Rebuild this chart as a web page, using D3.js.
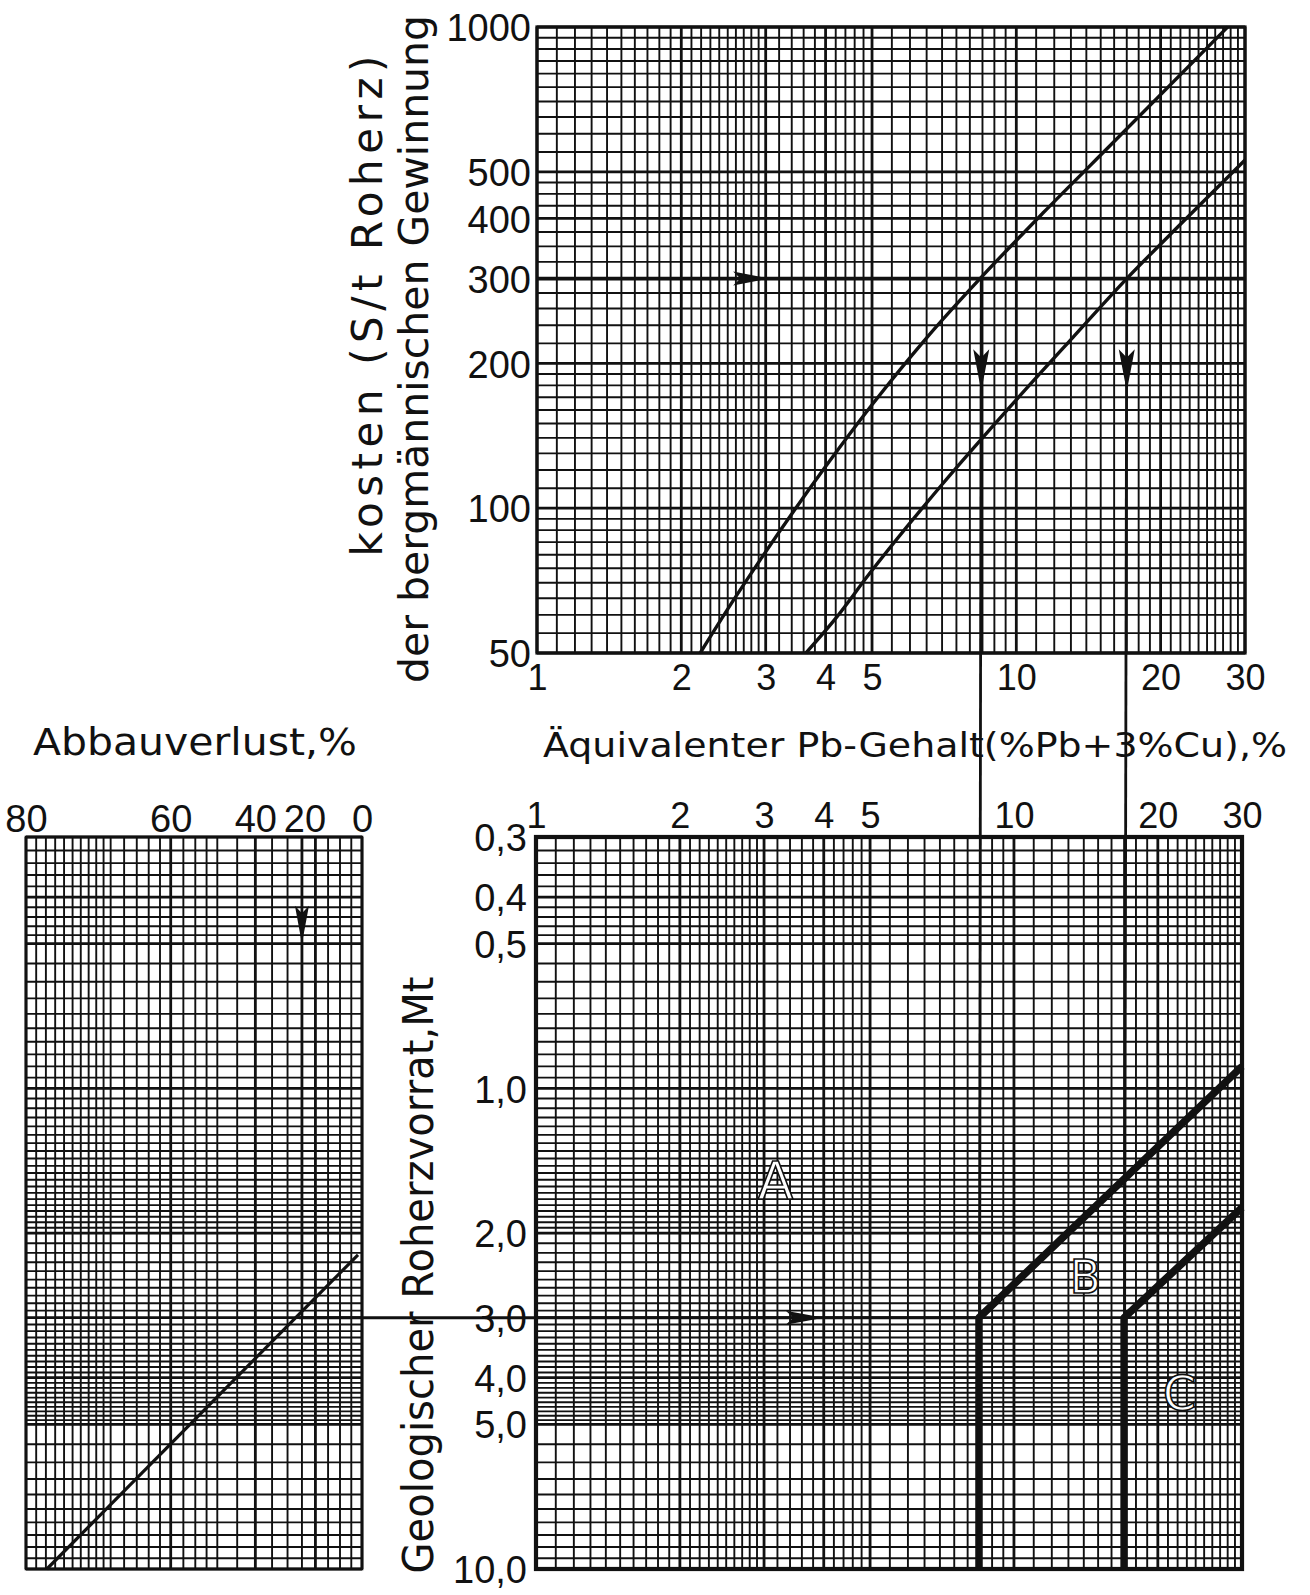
<!DOCTYPE html>
<html>
<head>
<meta charset="utf-8">
<script src="https://cdn.jsdelivr.net/npm/d3@7"></script>
<style>
  body { margin: 0; background: #fff; }
  text { fill: #111; }
</style>
</head>
<body>
<div id="chart"></div>
<script>
// ---------- data ----------
const gradeTicks = [1, 2, 3, 4, 5, 10, 20, 30];
const costTicks = [50, 100, 200, 300, 400, 500, 1000];
const reserveTicks = [0.3, 0.4, 0.5, 1, 2, 3, 4, 5, 10];
const reserveTickLabels = ["0,3", "0,4", "0,5", "1,0", "2,0", "3,0", "4,0", "5,0", "10,0"];
const lossTicks = [80, 60, 40, 20, 0];

// subdivisions of the printed log paper: [from, to, step]
const gradeGrid = [[1, 3, 0.1], [3, 5, 0.2], [5, 10, 0.5], [10, 30, 1]];
const costGrid = [[50, 100, 5], [100, 200, 10], [200, 300, 20], [300, 500, 25], [500, 1000, 50]];
const reserveGrid = [[0.3, 0.5, 0.02], [0.5, 2, 0.05], [2, 5, 0.1], [5, 10, 0.5]];
const lossGrid = [[0, 50, 5], [50, 60, 2.5], [60, 70, 2], [70, 80, 1]];

// mining cost curves: grade (%Pb equiv.) vs cost ($/t)
const upperGrade = [2.19, 2.56, 2.92, 4, 5, 6.5, 8.4, 11.35, 16, 27.6];
const upperCost  = [50, 64, 78, 122, 164, 226, 300, 410, 578, 1000];
const lowerGrade = [3.64, 4.17, 4.95, 7, 10, 13.1, 17, 22, 30];
const lowerCost  = [50, 58.5, 73.3, 112, 168, 226, 300, 389, 529];

// worked example
const costLevel = 300;
const cutGrades = [8.45, 17];
const reserveLevel = 3.0;
const lossExample = 25;

// boundaries between the fields A / B / C
const bGrade = [8.45, 8.45, 30];
const bReserve = [10, 3.0, 0.9];
const cGrade = [17, 17, 30];
const cReserve = [10, 3.0, 1.77];

// mining loss line: loss % vs geological reserve (Mt)
const lossLineLoss = [1.9, 77.9];
const lossLineReserve = [2.22, 10];

// ---------- layout ----------
const W = 1310, H = 1595;
const svg = d3.select("#chart").append("svg")
  .attr("width", W).attr("height", H)
  .attr("viewBox", [0, 0, W, H]);

const numFont = "Liberation Sans, Arial, sans-serif";
const txtFont = "DejaVu Sans, sans-serif";
const ink = "#111";

const xTop = d3.scaleLog().domain([1, 30]).range([537, 1245]);
const yTop = d3.scaleLog().domain([50, 1000]).range([653, 27]);
const xBot = d3.scaleLog().domain([1, 30]).range([536, 1242]);
const yBot = d3.scaleLog().domain([0.3, 10]).range([837, 1569]);
const lossToM = l => 100 / (100 - l);           // reserve multiplier
const xLossM = d3.scaleLog().domain([1, 5]).range([362, 26]);
const xLoss = l => xLossM(lossToM(l));

function steps(spec) {
  const out = [];
  for (const [a, b, s] of spec) {
    const n = Math.round((b - a) / s);
    for (let i = 0; i <= n; i++) out.push(+(a + i * s).toFixed(4));
  }
  return Array.from(new Set(out));
}
const isIn = (arr, v) => arr.some(t => Math.abs(t - v) < 1e-6);

function grid(g, xVals, xPos, xMajor, yVals, yPos, yMajor, box) {
  g.append("g").selectAll("line").data(xVals).join("line")
    .attr("x1", d => xPos(d)).attr("x2", d => xPos(d))
    .attr("y1", box.top).attr("y2", box.bottom)
    .attr("stroke", ink)
    .attr("stroke-width", d => isIn(xMajor, d) ? 2.8 : 1.9);
  g.append("g").selectAll("line").data(yVals).join("line")
    .attr("y1", d => yPos(d)).attr("y2", d => yPos(d))
    .attr("x1", box.left).attr("x2", box.right)
    .attr("stroke", ink)
    .attr("stroke-width", d => isIn(yMajor, d) ? 2.8 : 1.9);
  g.append("rect")
    .attr("x", box.left).attr("y", box.top)
    .attr("width", box.right - box.left).attr("height", box.bottom - box.top)
    .attr("fill", "none").attr("stroke", ink).attr("stroke-width", box.frame);
}

function styleAxis(sel, size) {
  sel.select(".domain").remove();
  sel.selectAll("text")
    .attr("font-family", numFont).attr("font-size", size).attr("fill", ink);
}

// ---------- top chart: cost vs grade ----------
const topBox = { left: xTop(1), right: xTop(30), top: yTop(1000), bottom: yTop(50), frame: 3.2 };
const gTop = svg.append("g");
grid(gTop, steps(gradeGrid), xTop, gradeTicks, steps(costGrid), yTop, costTicks, topBox);

svg.append("g")
  .attr("transform", `translate(${topBox.left - 6},0)`)
  .call(d3.axisLeft(yTop).tickValues(costTicks).tickFormat(d3.format("d")).tickSize(0).tickPadding(0))
  .call(styleAxis, 38)
  .selectAll("text").attr("dy", "0.36em");

svg.append("g")
  .attr("transform", `translate(0,${topBox.bottom})`)
  .call(d3.axisBottom(xTop).tickValues(gradeTicks).tickFormat(d3.format("d")).tickSize(0).tickPadding(0))
  .call(styleAxis, 36)
  .selectAll("text").attr("y", 37).attr("dy", 0);

const line = d3.line().curve(d3.curveMonotoneX);
gTop.append("path")
  .attr("d", line(upperGrade.map((g, i) => [xTop(g), yTop(upperCost[i])])))
  .attr("fill", "none").attr("stroke", ink).attr("stroke-width", 3.4);
gTop.append("path")
  .attr("d", line(lowerGrade.map((g, i) => [xTop(g), yTop(lowerCost[i])])))
  .attr("fill", "none").attr("stroke", ink).attr("stroke-width", 3.4);

// 300 $/t reading line
gTop.append("line")
  .attr("x1", topBox.left).attr("x2", topBox.right)
  .attr("y1", yTop(costLevel)).attr("y2", yTop(costLevel))
  .attr("stroke", ink).attr("stroke-width", 3.6);

// ---------- bottom chart: reserve vs grade ----------
const botBox = { left: xBot(1), right: xBot(30), top: yBot(0.3), bottom: yBot(10), frame: 4.2 };
const gBot = svg.append("g");
grid(gBot, steps(gradeGrid), xBot, gradeTicks, steps(reserveGrid), yBot, reserveTicks, botBox);

svg.append("g")
  .attr("transform", `translate(${botBox.left - 9},0)`)
  .call(d3.axisLeft(yBot).tickValues(reserveTicks)
    .tickFormat((d, i) => reserveTickLabels[i]).tickSize(0).tickPadding(0))
  .call(styleAxis, 38)
  .selectAll("text").attr("dy", "0.36em");

svg.append("g")
  .attr("transform", `translate(0,${botBox.top})`)
  .call(d3.axisTop(xBot).tickValues(gradeTicks).tickFormat(d3.format("d")).tickSize(0).tickPadding(0))
  .call(styleAxis, 36)
  .selectAll("text").attr("y", -9).attr("dy", 0);

// vertical reading lines from the 300 $/t crossings down through both charts
cutGrades.forEach(g => {
  svg.append("line")
    .attr("x1", xTop(g)).attr("x2", xBot(g))
    .attr("y1", yTop(costLevel)).attr("y2", botBox.bottom)
    .attr("stroke", ink).attr("stroke-width", 2.8);
});

// boundaries B and C
[[bGrade, bReserve], [cGrade, cReserve]].forEach(([gs, rs]) => {
  gBot.append("path")
    .attr("d", d3.line()(gs.map((g, i) => [xBot(g), yBot(rs[i])])))
    .attr("fill", "none").attr("stroke", ink).attr("stroke-width", 7.5)
    .attr("stroke-linejoin", "round");
});

// field letters
const fields = [["A", 3.17, 1.55, 52], ["B", 14.1, 2.46, 46], ["C", 22.2, 4.3, 48]];
gBot.selectAll(".field").data(fields).join("text")
  .attr("x", d => xBot(d[1])).attr("y", d => yBot(d[2]))
  .attr("text-anchor", "middle").attr("dy", "0.36em")
  .attr("font-family", txtFont).attr("font-size", d => d[3])
  .attr("stroke", ink).attr("stroke-width", 1.6)
  .style("fill", "#fff")
  .text(d => d[0]);

// ---------- left chart: mining loss ----------
const leftBox = { left: xLoss(80), right: xLoss(0), top: yBot(0.3), bottom: yBot(10), frame: 2.6 };
const gLeft = svg.append("g");
grid(gLeft, steps(lossGrid), xLoss, [0, 20, 40, 60, 80], steps(reserveGrid), yBot, reserveTicks, leftBox);

svg.append("g")
  .attr("transform", `translate(0,${leftBox.top - 5})`)
  .call(d3.axisTop(xLossM).tickValues(lossTicks.map(lossToM))
    .tickFormat(m => Math.round(100 - 100 / m)).tickSize(0).tickPadding(0))
  .call(styleAxis, 38)
  .selectAll("text")
  .attr("dx", m => Math.round(100 - 100 / m) === 20 ? -11 : 0)
  .attr("y", 0).attr("dy", 0);

gLeft.append("path")
  .attr("d", d3.line()(lossLineLoss.map((l, i) => [xLoss(l), yBot(lossLineReserve[i])])))
  .attr("fill", "none").attr("stroke", ink).attr("stroke-width", 3.2);

// where the loss line meets the 3,0 Mt level
const lossAt3 = 100 - 100 * lossLineReserve[0] / reserveLevel;
gLeft.append("line")
  .attr("x1", xLoss(lossExample)).attr("x2", xLoss(lossExample))
  .attr("y1", leftBox.top).attr("y2", yBot(reserveLevel))
  .attr("stroke", ink).attr("stroke-width", 2.8);
svg.append("line")
  .attr("x1", xLoss(lossAt3)).attr("x2", xBot(cutGrades[0]))
  .attr("y1", yBot(reserveLevel)).attr("y2", yBot(reserveLevel))
  .attr("stroke", ink).attr("stroke-width", 3);

// ---------- arrows ----------
function arrow(x, y, dir, len, half) {
  const p = dir === "right"
    ? [[x, y], [x - len, y - half], [x - len * 0.8, y], [x - len, y + half]]
    : [[x, y], [x - half, y - len], [x, y - len * 0.8], [x + half, y - len]];
  svg.append("path").attr("d", "M" + p.join("L") + "Z").attr("fill", ink);
}
arrow(xTop(3.05), yTop(costLevel), "right", 36, 7);
arrow(xBot(4.0), yBot(reserveLevel), "right", 38, 7);
cutGrades.forEach(g => arrow(xTop(g), yTop(175), "down", 42, 8));
arrow(xLoss(lossExample), yBot(0.5), "down", 38, 7);

// ---------- titles ----------
svg.append("text")
  .attr("x", 543).attr("y", 757)
  .attr("font-family", txtFont).attr("font-size", 33)
  .attr("textLength", 744).attr("lengthAdjust", "spacingAndGlyphs")
  .text("Äquivalenter Pb-Gehalt(%Pb+3%Cu),%");

svg.append("text")
  .attr("x", 33).attr("y", 755)
  .attr("font-family", txtFont).attr("font-size", 37)
  .attr("textLength", 324).attr("lengthAdjust", "spacingAndGlyphs")
  .text("Abbauverlust,%");

function vtitle(x, yMid, len, size, adjust, str) {
  svg.append("text")
    .attr("transform", `translate(${x},${yMid}) rotate(-90)`)
    .attr("text-anchor", "middle")
    .attr("font-family", txtFont).attr("font-size", size)
    .attr("textLength", len).attr("lengthAdjust", adjust)
    .text(str);
}
vtitle(382, 306, 501, 42, "spacing", "kosten (S/t Roherz)");
vtitle(428, 349, 668, 40, "spacingAndGlyphs", "der bergmännischen Gewinnung");
vtitle(433, 1275, 597, 42, "spacingAndGlyphs", "Geologischer Roherzvorrat,Mt");
</script>
</body>
</html>
